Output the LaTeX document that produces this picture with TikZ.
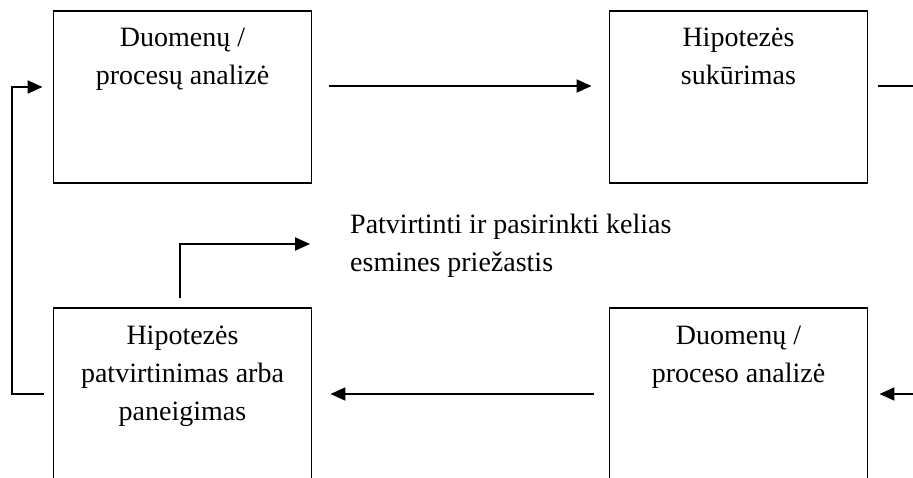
\documentclass[tikz,border=0pt]{standalone}
\usepackage{fontspec}
\setmainfont{Liberation Serif}
\usetikzlibrary{arrows.meta,calc}
\begin{document}
\begin{tikzpicture}[x=1pt,y=-1pt,
  stepbox/.style={draw,line width=1.9pt,minimum width=258pt,minimum height=172pt,inner sep=0pt},
  boxtext/.style={anchor=north,align=center,inner sep=0pt,font=\fontsize{28}{38}\selectfont},
  flow/.style={line width=2pt,-{Triangle[length=15pt,width=13pt]}},
  link/.style={line width=2pt}]
\clip (0,0) rectangle (913,478);

% process boxes
\node[stepbox] (a) at (182.5,97) {};
\node[stepbox] (b) at (738.5,97) {};
\node[stepbox] (c) at (182.5,394) {};
\node[stepbox] (d) at (738.5,394) {};

% box captions
\node[boxtext] (at) at ($(a.north)+(0,18)$) {Duomenų /\\procesų analizė};
\node[boxtext] (bt) at ($(b.north)+(0,18)$) {Hipotezės\\sukūrimas};
\node[boxtext] (ct) at ($(c.north)+(0,19)$) {Hipotezės\\patvirtinimas arba\\paneigimas};
\node[boxtext] (dt) at ($(d.north)+(0,19)$) {Duomenų /\\proceso analizė};

% side note
\node[anchor=north west,align=left,inner sep=0pt,font=\fontsize{28}{38}\selectfont]
  (note) at (350,214) {Patvirtinti ir pasirinkti kelias\\esmines priežastis};

% loose ends at the page border
\coordinate (topend) at (913,86);
\coordinate (rightin) at (913,394);
\coordinate (noteptr) at (310,244);

% connectors
\draw[flow] ([xshift=17pt,yshift=11pt]a.east) -- ([xshift=-17pt,yshift=11pt]b.west);
\draw[link] ([xshift=10pt,yshift=11pt]b.east) -- (topend);
\draw[flow] (rightin) -- ([xshift=11pt]d.east);
\draw[flow] ([xshift=-15pt]d.west) -- ([xshift=18pt]c.east);
\draw[flow] ([xshift=-9pt]c.west) -- ++(-32,0) |- ([xshift=-10pt,yshift=10pt]a.west);
\draw[flow] ([xshift=-2.5pt,yshift=9pt]c.north) |- (noteptr);
\end{tikzpicture}
\end{document}
